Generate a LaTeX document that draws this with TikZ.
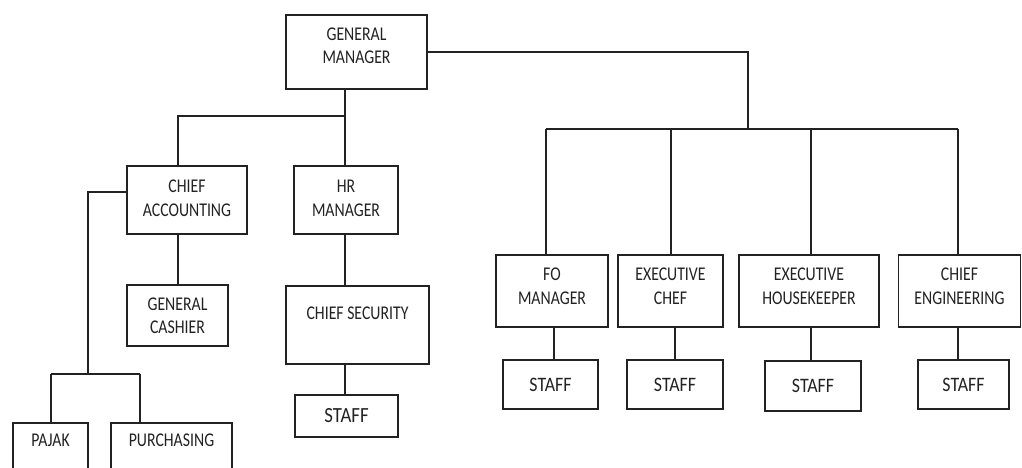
\documentclass[tikz,border=0pt]{standalone}
\usepackage{fontspec}
\setmainfont{Carlito}[FakeStretch=0.81]
\newfontfamily\stafffont{Carlito}[FakeStretch=0.87]
\definecolor{ink}{HTML}{222222}
\tikzset{
  box/.style 2 args={draw=ink, line width=1.1pt, rectangle, inner sep=0pt,
    minimum width=#1*0.75pt, minimum height=#2*0.75pt,
    text=ink, font=\fontsize{14.6}{17.6}\selectfont},
  staffbox/.style 2 args={box={#1}{#2}, font=\stafffont\fontsize{15.4}{18}\selectfont},
  conn/.style={draw=ink, line width=1.1pt}
}
\newcommand{\liftup}[2]{\raisebox{#1}[\height][\depth]{\begin{tabular}{@{}c@{}}#2\end{tabular}}}
\begin{document}
\begin{tikzpicture}[x=0.75pt, y=-0.75pt]
\useasboundingbox (0,0) rectangle (1022,468);
\clip (0,0) rectangle (1022,468);
% boxes
\node[box={141}{74}] (gm) at (356.5,52) {\liftup{3.5pt}{GENERAL\\MANAGER}};
\node[box={120}{68}] (ca) at (187,200) {\liftup{0pt}{CHIEF\\ACCOUNTING}};
\node[box={104}{68}] (hr) at (346,200) {\liftup{0pt}{HR\\MANAGER}};
\node[box={101}{61}] (gc) at (177.5,315.5) {\liftup{-1.5pt}{GENERAL\\CASHIER}};
\node[box={143}{78}] (cs) at (357.5,325) {\liftup{7.5pt}{CHIEF SECURITY}};
\node[staffbox={103}{42}, font=\stafffont\fontsize{16.2}{18}\selectfont] (st0) at (346.5,416) {STAFF};
\node[box={75}{64}] (pj) at (50.5,455) {\liftup{9.75pt}{PAJAK}};
\node[box={121}{64}] (pu) at (171.5,455) {\liftup{9.75pt}{PURCHASING}};
\node[box={112}{72}] (fo) at (552,291) {\liftup{2.5pt}{FO\\MANAGER}};
\node[box={105}{72}] (ec) at (670.5,291) {\liftup{2.5pt}{EXECUTIVE\\CHEF}};
\node[box={140}{72}] (eh) at (809,291) {\liftup{2.5pt}{EXECUTIVE\\HOUSEKEEPER}};
\node[box={122}{72}] (ce) at (959.5,291) {\liftup{2.5pt}{CHIEF\\ENGINEERING}};
\node[staffbox={95}{49}] (st1) at (550.5,384.5) {STAFF};
\node[staffbox={96}{49}] (st2) at (675,384.5) {STAFF};
\node[staffbox={96}{50}] (st3) at (813,386) {STAFF};
\node[staffbox={91}{49}] (st4) at (963.5,384.5) {STAFF};
% junction coordinates
\coordinate (j1) at (345,116);
\coordinate (j1l) at (178,116);
\coordinate (j2) at (748,129);
\coordinate (jfo) at (546,129);
\coordinate (jec) at (671,129);
\coordinate (jeh) at (811,129);
\coordinate (jce) at (958,129);
\coordinate (xfo) at (554,0);
\coordinate (xec) at (675,0);
\coordinate (j3t) at (88,192);
\coordinate (j3) at (88,374);
\coordinate (j3a) at (51,374);
\coordinate (j3b) at (140,374);
% connectors left
\draw[conn] (gm.south -| j1) -- (hr.north -| j1);
\draw[conn] (j1) -- (j1l) -- (ca.north -| j1l);
\draw[conn] (ca.south -| j1l) -- (gc.north -| j1l);
\draw[conn] (hr.south -| j1) -- (cs.north -| j1);
\draw[conn] (cs.south -| j1) -- (st0.north -| j1);
\draw[conn] (ca.west |- j3t) -- (j3t) -- (j3);
\draw[conn] (j3a) -- (j3b);
\draw[conn] (j3a) -- (pj.north -| j3a);
\draw[conn] (j3b) -- (pu.north -| j3b);
% connectors right
\draw[conn] (gm.east) -| (j2);
\draw[conn] (jfo) -- (jce);
\draw[conn] (jfo) -- (fo.north -| jfo);
\draw[conn] (jec) -- (ec.north -| jec);
\draw[conn] (jeh) -- (eh.north -| jeh);
\draw[conn] (jce) -- (ce.north -| jce);
\draw[conn] (fo.south -| xfo) -- (st1.north -| xfo);
\draw[conn] (ec.south -| xec) -- (st2.north -| xec);
\draw[conn] (eh.south -| jeh) -- (st3.north -| jeh);
\draw[conn] (ce.south -| jce) -- (st4.north -| jce);
\end{tikzpicture}
\end{document}
